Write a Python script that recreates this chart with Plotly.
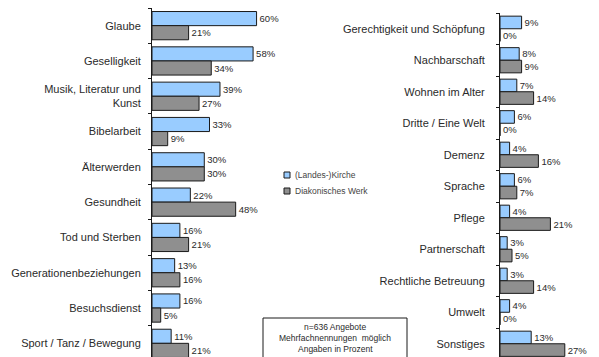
import plotly.graph_objects as go

# Left panel topics
left_topics = ["Glaube", "Geselligkeit", "Musik, Literatur und<br>Kunst", "Bibelarbeit",
               "Älterwerden", "Gesundheit", "Tod und Sterben", "Generationenbeziehungen",
               "Besuchsdienst", "Sport / Tanz / Bewegung"]
left_kirche = [60, 58, 39, 33, 30, 22, 16, 13, 16, 11]
left_diakonie = [21, 34, 27, 9, 30, 48, 21, 16, 5, 21]

# Right panel topics
right_topics = ["Gerechtigkeit und Schöpfung", "Nachbarschaft", "Wohnen im Alter",
                "Dritte / Eine Welt", "Demenz", "Sprache", "Pflege", "Partnerschaft",
                "Rechtliche Betreuung", "Umwelt", "Sonstiges"]
right_kirche = [9, 8, 7, 6, 4, 6, 4, 3, 3, 4, 13]
right_diakonie = [0, 9, 14, 0, 16, 7, 21, 5, 14, 0, 27]

series_names = ["(Landes-)Kirche", "Diakonisches Werk"]
series_colors = ["#99CCFF", "#8F8F8F"]
note_lines = ["n=636 Angebote", "Mehrfachnennungen  möglich", "Angaben in Prozent"]

W, H = 599, 357
FONT = "Liberation Sans, Arial, sans-serif"
TXT = "#2a2a2a"

fig = go.Figure()


def add_panel(topics, kirche, diakonie, xa, ya):
    for vals, name, color in zip([kirche, diakonie], series_names, series_colors):
        fig.add_trace(go.Bar(
            y=topics, x=vals, orientation="h", name=name,
            marker=dict(color=color, line=dict(color="#1a1a1a", width=1)),
            text=[f"{v}%" for v in vals], textposition="outside",
            textfont=dict(size=9.5, color=TXT, family=FONT),
            constraintext="none", cliponaxis=False,
            xaxis=xa, yaxis=ya, showlegend=False,
        ))


add_panel(left_topics, left_kirche, left_diakonie, "x", "y")
add_panel(right_topics, right_kirche, right_diakonie, "x2", "y2")

axis_y_common = dict(
    type="category", showline=True, linecolor="#1a1a1a", linewidth=1,
    ticks="outside", tickson="boundaries", ticklen=3, tickcolor="#1a1a1a",
    showgrid=False, zeroline=False,
    tickfont=dict(size=11, color=TXT, family=FONT),
)

fig.update_layout(
    width=W, height=H,
    margin=dict(l=0, r=0, t=0, b=0),
    paper_bgcolor="white", plot_bgcolor="white",
    barmode="group", bargap=0.2, bargroupgap=0,
    showlegend=False,
    xaxis=dict(domain=[152 / W, 274 / W], range=[0, 70], visible=False),
    yaxis=dict(domain=[0, 1 - 8 / H], range=[9.387, -0.5],
               categoryorder="array", categoryarray=left_topics,
               ticklabelstandoff=8, **axis_y_common),
    xaxis2=dict(domain=[500 / W, 584 / W], range=[0, 35], visible=False),
    yaxis2=dict(domain=[0, 1 - 13 / H], range=[10.42, -0.5], anchor="x2",
                categoryorder="array", categoryarray=right_topics,
                ticklabelstandoff=12, **axis_y_common),
)

# Legend: small framed squares with series names
for i, (name, color) in enumerate(zip(series_names, series_colors)):
    yc = 175 + i * 16
    fig.add_shape(type="rect", xref="paper", yref="paper",
                  x0=284 / W, x1=290 / W, y0=1 - (yc + 3) / H, y1=1 - (yc - 3) / H,
                  fillcolor=color, line=dict(color="#1a1a1a", width=1))
    fig.add_annotation(x=293 / W, y=1 - yc / H, xref="paper", yref="paper",
                       text=name, showarrow=False, xanchor="left", yanchor="middle",
                       font=dict(size=8.5, color="#444", family=FONT))

# Note box at bottom centre
fig.add_shape(type="rect", xref="paper", yref="paper",
              x0=263 / W, x1=407 / W, y0=1 - 370 / H, y1=1 - 318 / H,
              line=dict(color="#1a1a1a", width=1), fillcolor="white")
for i, line in enumerate(note_lines):
    fig.add_annotation(x=335 / W, y=1 - (327 + i * 11) / H, xref="paper", yref="paper",
                       text=line, showarrow=False, xanchor="center", yanchor="middle",
                       font=dict(size=8.5, color=TXT, family=FONT))

fig.write_html("out.html")
